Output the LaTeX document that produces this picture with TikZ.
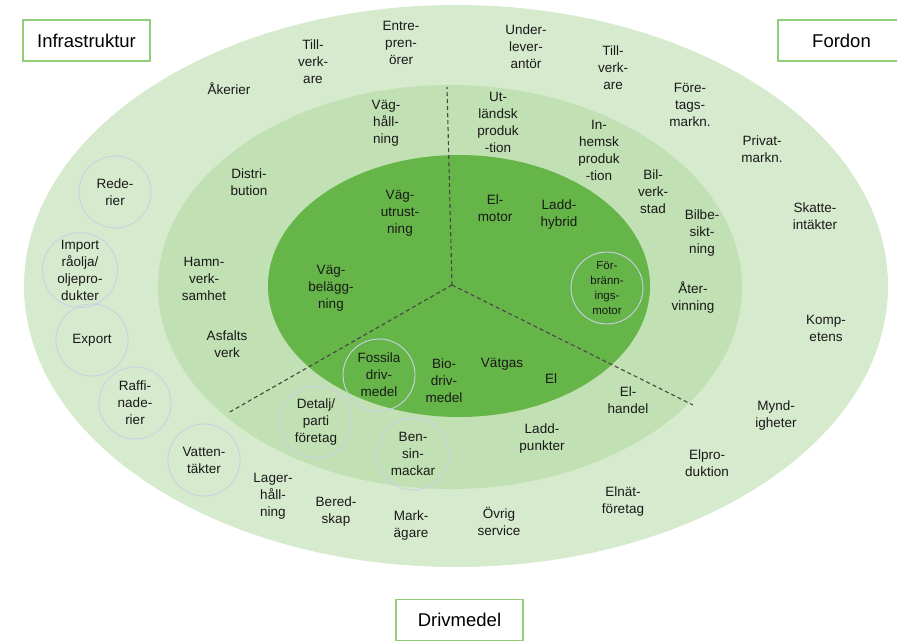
\documentclass[tikz,border=0pt]{standalone}
\usepackage{fontspec}
\setmainfont{Liberation Sans}
\usetikzlibrary{shapes.geometric, positioning}

\definecolor{ringOuter}{RGB}{214,234,206}
\definecolor{ringMid}{RGB}{193,224,179}
\definecolor{ringInner}{RGB}{102,181,72}
\definecolor{circEdge}{RGB}{200,210,228}
\definecolor{boxEdge}{RGB}{146,206,122}
\definecolor{divGray}{RGB}{70,70,70}

\begin{document}
\begin{tikzpicture}[
    x=1pt, y=-1pt,
    font=\fontsize{13.5}{17}\selectfont,
    ring/.style={
        ellipse, draw=none, inner sep=0pt
    },
    lbl/.style={
        align=center, inner sep=0pt, text=black!90
    },
    actor_circ/.style={
        lbl, circle, draw=circEdge, line width=0.9pt,
        minimum size=72pt
    },
    title_box/.style={
        draw=boxEdge, line width=1.4pt, fill=white,
        minimum width=127pt, minimum height=41pt,
        font=\fontsize{18.5}{22}\selectfont
    },
    divider/.style={
        divGray, line width=1.1pt,
        dash pattern=on 4pt off 3pt
    }
]
\useasboundingbox (0,0) rectangle (897,641);

%% ── Ringar ─────────────────────────────────
\node[ring, fill=ringOuter, minimum width=864pt, minimum height=562pt]
    (ring_out) at (456,286) {};
\node[ring, fill=ringMid, minimum width=584pt, minimum height=404pt]
    (ring_mid) at (450,287) {};
\node[ring, fill=ringInner, minimum width=382pt, minimum height=262pt]
    (ring_in) at (459,286) {};

%% ── Skiljelinjer ───────────────────────────
\coordinate (hub)    at (452,285);
\coordinate (div_n)  at (447,87);
\coordinate (div_sw) at (228,413);
\coordinate (div_se) at (693,405);
\draw[divider] (hub) -- (div_n);
\draw[divider] (hub) -- (div_sw);
\draw[divider] (hub) -- (div_se);

%% ── Rubriker ───────────────────────────────
\node[title_box] (t_infra) at (86.5,40.5)  {Infrastruktur};
\node[title_box] (t_fordon) at (841.5,40.5) {Fordon};
\node[title_box] (t_driv) at (459.5,620)   {Drivmedel};

%% ── Yttre ring ─────────────────────────────
\node[lbl] (o_akerier)  at (229,89)  {Åkerier};
\node[lbl] (o_tillv_l)  at (313,62)  {Till-\\verk-\\are};
\node[lbl] (o_entre)    at (401,43)  {Entre-\\pren-\\örer};
\node[lbl] (o_under)    at (526,47)  {Under-\\lever-\\antör};
\node[lbl] (o_tillv_r)  at (613,68)  {Till-\\verk-\\are};
\node[lbl] (o_foretag)  at (690,105) {Före-\\tags-\\markn.};
\node[lbl] (o_privat)   at (762,149) {Privat-\\markn.};
\node[lbl] (o_skatt)    at (815,216) {Skatte-\\intäkter};
\node[lbl] (o_komp)     at (826,328) {Komp-\\etens};
\node[lbl] (o_mynd)     at (776,415) {Mynd-\\igheter};
\node[lbl] (o_elprod)   at (707,463) {Elpro-\\duktion};
\node[lbl] (o_elnat)    at (623,501) {Elnät-\\företag};
\node[lbl] (o_ovrig)    at (499,521) {Övrig\\service};
\node[lbl] (o_mark)     at (411,525) {Mark-\\ägare};
\node[lbl] (o_bered)    at (336,511) {Bered-\\skap};
\node[lbl] (o_lager)    at (273,496) {Lager-\\håll-\\ning};

\node[actor_circ] (o_vatten) at (204,460) {Vatten-\\täkter};
\node[actor_circ] (o_raffi)  at (135,403) {Raffi-\\nade-\\rier};
\node[actor_circ] (o_export) at (92,340)  {Export};
\node[actor_circ] (o_import) at (80,270)  {Import\\råolja/\\oljepro-\\dukter};
\node[actor_circ] (o_rede)   at (115,192) {Rede-\\rier};

%% ── Mellersta ring ─────────────────────────
\node[lbl] (m_vaghall)  at (386,123) {Väg-\\håll-\\ning};
\node[lbl] (m_distri)   at (249,182) {Distri-\\bution};
\node[lbl] (m_hamn)     at (204,279) {Hamn-\\verk-\\samhet};
\node[lbl] (m_asfalt)   at (227,344) {Asfalts\\verk};
\node[lbl] (m_ladd)     at (542,438) {Ladd-\\punkter};
\node[lbl] (m_elhandel) at (628,400) {El-\\handel};
\node[lbl] (m_ater)     at (693,298) {Åter-\\vinning};
\node[lbl] (m_bilbe)    at (702,233) {Bilbe-\\sikt-\\ning};
\node[lbl] (m_bilverk)  at (653,192) {Bil-\\verk-\\stad};
\node[lbl] (m_inhemsk)  at (599,150) {In-\\hemsk\\produk\\-tion};
\node[lbl] (m_utland)   at (498,122) {Ut-\\ländsk\\produk\\-tion};

\node[actor_circ] (m_detalj) at (316,422) {Detalj/\\parti\\företag};
\node[actor_circ] (m_bensin) at (413,454) {Ben-\\sin-\\mackar};

%% ── Inre ring ──────────────────────────────
\node[lbl] (i_vagutr)  at (400,213) {Väg-\\utrust-\\ning};
\node[lbl] (i_vagbel)  at (331,288) {Väg-\\belägg-\\ning};
\node[lbl] (i_elmotor) at (495,208) {El-\\motor};
\node[lbl] (i_laddhyb) at (559,215) {Ladd-\\hybrid};
\node[lbl] (i_bio)     at (444,381) {Bio-\\driv-\\medel};
\node[lbl] (i_vatgas)  at (502,364) {Vätgas};
\node[lbl] (i_el)      at (551,379) {El};

\node[actor_circ] (i_fossil) at (379,375) {Fossila\\driv-\\medel};
\node[actor_circ, font=\fontsize{11.5}{15}\selectfont]
    (i_forbr) at (607,288) {För-\\bränn-\\ings-\\motor};

\end{tikzpicture}
\end{document}
